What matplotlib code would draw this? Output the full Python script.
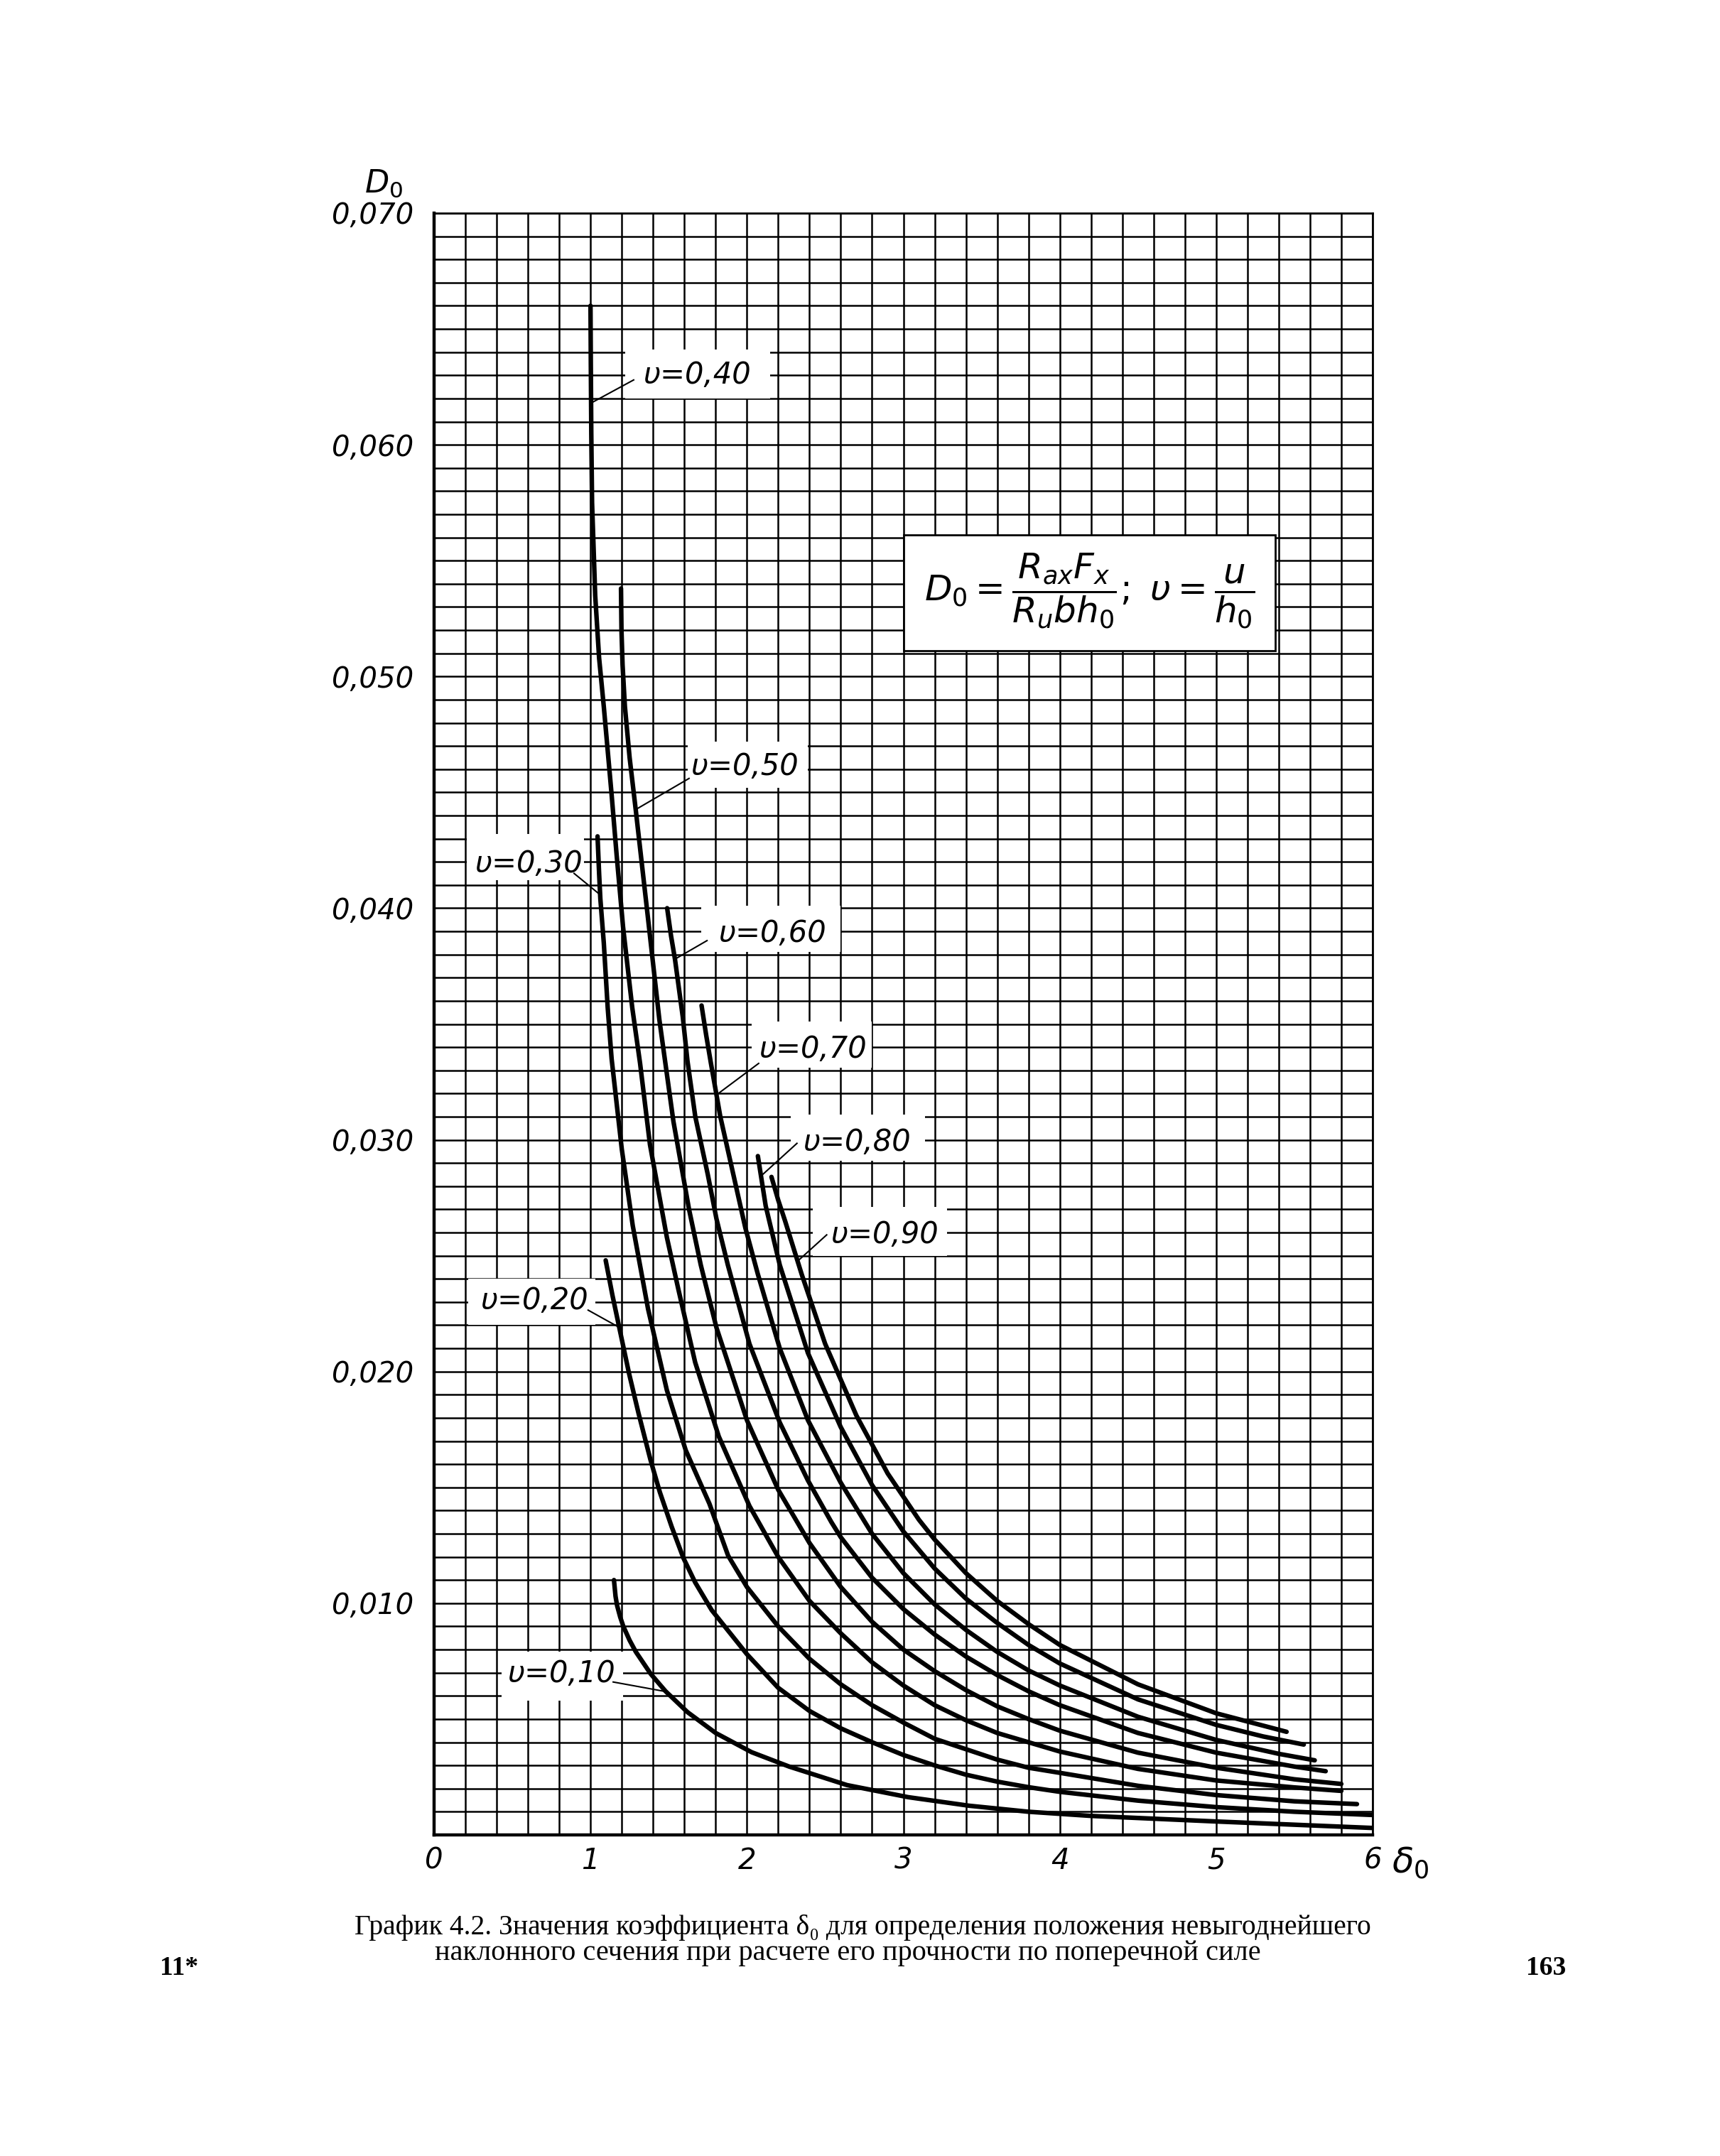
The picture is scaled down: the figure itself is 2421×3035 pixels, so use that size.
import matplotlib
matplotlib.use("Agg")
import matplotlib.pyplot as plt
from matplotlib.patches import Rectangle
from matplotlib.ticker import MultipleLocator

W, H = 2421, 3035

# values: delta_0 along x, D_0 along y
delta_10 = [1.15, 1.16, 1.17, 1.19, 1.21, 1.25, 1.29, 1.385, 1.48, 1.62, 1.80,
            2.03, 2.27, 2.64, 3.03, 3.42, 3.80, 4.20, 4.60, 5.00, 5.50, 6.00]
d0_10 = [0.0110, 0.0103, 0.0099, 0.0094, 0.0090, 0.0084, 0.0079, 0.00695,
         0.0062, 0.0053, 0.0044, 0.00357, 0.00295, 0.00215, 0.00163, 0.00126,
         0.0010, 0.00082, 0.00070, 0.00058, 0.00044, 0.00030]

delta_20 = [1.097, 1.14, 1.187, 1.247, 1.307, 1.383, 1.443, 1.519, 1.594, 1.669,
            1.775, 2.0, 2.2, 2.4, 2.6, 2.8, 3.0, 3.2, 3.4, 3.6, 3.8, 4.0, 4.5,
            5.0, 5.5, 6.0]
d0_20 = [0.0248, 0.0233, 0.0218, 0.0199, 0.0182, 0.0162, 0.0148, 0.0133,
         0.01195, 0.0109, 0.0097, 0.0078, 0.00635, 0.00535, 0.0046, 0.0040,
         0.00345, 0.0030, 0.0026, 0.0023, 0.00206, 0.00186, 0.00148, 0.0012,
         0.0010, 0.00086]

delta_30 = [1.045, 1.055, 1.063, 1.085, 1.11, 1.135, 1.2, 1.27, 1.368, 1.488,
            1.609, 1.76, 1.88, 2.0, 2.2, 2.4, 2.6, 2.8, 3.0, 3.2, 3.4, 3.6,
            3.8, 4.0, 4.5, 5.0, 5.5, 5.9]
d0_30 = [0.0431, 0.0415, 0.0404, 0.0385, 0.0357, 0.0335, 0.0296, 0.0263,
         0.0227, 0.0192, 0.0166, 0.0143, 0.01205, 0.0107, 0.0090, 0.0076,
         0.0065, 0.0056, 0.00485, 0.00415, 0.0037, 0.00325, 0.0029, 0.00268,
         0.00212, 0.00172, 0.00145, 0.00133]

delta_40 = [1.0, 1.002, 1.005, 1.01, 1.03, 1.055, 1.085, 1.135, 1.167, 1.208,
            1.267, 1.317, 1.38, 1.488, 1.56, 1.669, 1.82, 2.016, 2.2, 2.4, 2.6,
            2.8, 3.0, 3.2, 3.4, 3.6, 3.8, 4.0, 4.5, 5.0, 5.5, 5.8]
d0_40 = [0.0660, 0.0635, 0.0605, 0.0575, 0.0535, 0.0508, 0.0487, 0.0449,
         0.0423, 0.0392, 0.0357, 0.0333, 0.0298, 0.0258, 0.0236, 0.0204,
         0.0172, 0.0142, 0.0120, 0.0101, 0.0087, 0.00745, 0.00645, 0.0056,
         0.00495, 0.0044, 0.0040, 0.0036, 0.00285, 0.00235, 0.00205, 0.0019]

delta_50 = [1.195, 1.198, 1.205, 1.22, 1.25, 1.29, 1.367, 1.44, 1.53, 1.63,
            1.705, 1.805, 2.0, 2.2, 2.4, 2.6, 2.8, 3.0, 3.2, 3.4, 3.6, 3.8, 4.0,
            4.5, 5.0, 5.5, 5.8]
d0_50 = [0.0538, 0.0520, 0.0505, 0.0487, 0.0465, 0.0442, 0.0396, 0.0352,
         0.0308, 0.0270, 0.0246, 0.0219, 0.0179, 0.0149, 0.0126, 0.0107,
         0.0092, 0.0080, 0.00707, 0.00625, 0.00555, 0.0050, 0.0045, 0.00355,
         0.0029, 0.0024, 0.0022]

delta_60 = [1.49, 1.515, 1.54, 1.59, 1.62, 1.67, 1.75, 1.805, 1.878, 2.016,
            2.21, 2.39, 2.54, 2.6, 2.8, 3.0, 3.2, 3.4, 3.6, 3.8, 4.0, 4.5, 5.0,
            5.5, 5.7]
d0_60 = [0.0400, 0.0388, 0.0378, 0.0353, 0.0334, 0.0310, 0.0285, 0.0266,
         0.0246, 0.0212, 0.0178, 0.0153, 0.0135, 0.01285, 0.0111, 0.00975,
         0.00865, 0.0077, 0.0069, 0.0062, 0.0056, 0.0044, 0.00355, 0.00295,
         0.00275]

delta_70 = [1.71, 1.74, 1.77, 1.83, 1.88, 1.99, 2.07, 2.21, 2.39, 2.6, 2.8, 3.0,
            3.2, 3.4, 3.6, 3.8, 4.0, 4.5, 5.0, 5.4, 5.63]
d0_70 = [0.0358, 0.0345, 0.0333, 0.0310, 0.0295, 0.0262, 0.0242, 0.0210,
         0.0179, 0.0152, 0.0130, 0.0113, 0.00995, 0.00885, 0.0079, 0.0071,
         0.00645, 0.0051, 0.0041, 0.0035, 0.00322]

delta_80 = [2.07, 2.12, 2.21, 2.39, 2.6, 2.8, 2.93, 3.0, 3.2, 3.4, 3.6, 3.8,
            4.0, 4.5, 5.0, 5.3, 5.56]
d0_80 = [0.0293, 0.02715, 0.0246, 0.0208, 0.0176, 0.0151, 0.0138, 0.0131,
         0.0115, 0.0102, 0.00915, 0.0082, 0.0074, 0.00585, 0.00475, 0.00425,
         0.0039]

delta_90 = [2.157, 2.2, 2.244, 2.35, 2.5, 2.7, 2.9, 3.1, 3.2, 3.4, 3.6, 3.8,
            4.0, 4.5, 5.0, 5.45]
d0_90 = [0.0284, 0.0274, 0.0265, 0.0242, 0.0212, 0.0181, 0.0156, 0.0136,
         0.01275, 0.0113, 0.0101, 0.0091, 0.0082, 0.0065, 0.00525, 0.00445]

curves = [(delta_10, d0_10), (delta_20, d0_20), (delta_30, d0_30),
          (delta_40, d0_40), (delta_50, d0_50), (delta_60, d0_60),
          (delta_70, d0_70), (delta_80, d0_80), (delta_90, d0_90)]

x_ticks = [0, 1, 2, 3, 4, 5, 6]
y_ticks = [0.010, 0.020, 0.030, 0.040, 0.050, 0.060, 0.070]
y_tick_labels = ["0,010", "0,020", "0,030", "0,040", "0,050", "0,060", "0,070"]

# curve labels: text, text centre, white box (x0, x1, y0, y1), leader from -> to
curve_labels = [
    ("υ=0,10", (0.815, 0.00695), (0.43, 1.21, 0.0058, 0.0079), (1.145, 0.0066), (1.47, 0.0062)),
    ("υ=0,20", (0.64, 0.02305), (0.22, 1.03, 0.0220, 0.0240), (0.985, 0.02265), (1.185, 0.0219)),
    ("υ=0,30", (0.605, 0.0419), (0.21, 0.96, 0.0412, 0.0432), (0.895, 0.0415), (1.058, 0.0406)),
    ("υ=0,40", (1.68, 0.0630), (1.22, 2.15, 0.0620, 0.0641), (1.276, 0.0628), (1.003, 0.0618)),
    ("υ=0,50", (1.985, 0.0461), (1.62, 2.39, 0.0452, 0.0472), (1.63, 0.0456), (1.30, 0.0443)),
    ("υ=0,60", (2.165, 0.0389), (1.71, 2.60, 0.0381, 0.0401), (1.745, 0.0386), (1.54, 0.0378)),
    ("υ=0,70", (2.42, 0.0339), (2.03, 2.80, 0.0331, 0.0351), (2.075, 0.0333), (1.817, 0.0320)),
    ("υ=0,80", (2.705, 0.0299), (2.28, 3.14, 0.0291, 0.0311), (2.32, 0.02985), (2.10, 0.0285)),
    ("υ=0,90", (2.88, 0.0259), (2.42, 3.28, 0.0250, 0.0271), (2.51, 0.0259), (2.33, 0.0248)),
]

plt.rcParams["font.family"] = ["DejaVu Sans"]
plt.rcParams["mathtext.fontset"] = "dejavusans"

fig = plt.figure(figsize=(W / 100, H / 100), dpi=100, facecolor="white")
ax = fig.add_axes([611 / W, 1 - 2583 / H, (1932 - 611) / W, (2583 - 300) / H])

ax.set_xlim(0, 6)
ax.set_ylim(0, 0.070)
ax.set_xticks(x_ticks)
ax.set_xticklabels([str(v) for v in x_ticks])
ax.set_yticks(y_ticks)
ax.set_yticklabels(y_tick_labels)
ax.xaxis.set_minor_locator(MultipleLocator(0.2))
ax.yaxis.set_minor_locator(MultipleLocator(0.001))
ax.tick_params(which="both", length=0)
ax.tick_params(axis="x", pad=12)
ax.tick_params(axis="y", pad=21)
for lab in ax.get_xticklabels() + ax.get_yticklabels():
    lab.set_fontsize(29)
    lab.set_fontstyle("italic")
ax.set_axisbelow(True)
ax.grid(which="both", color="black", linewidth=1.8)
for side in ("left", "bottom"):
    ax.spines[side].set_linewidth(3.2)
for side in ("top", "right"):
    ax.spines[side].set_linewidth(2.0)

for xs, ys in curves:
    ax.plot(xs, ys, color="black", linewidth=4.6, solid_capstyle="round",
            solid_joinstyle="round", zorder=3)

for text, (tx, ty), (bx0, bx1, by0, by1), (lx0, ly0), (lx1, ly1) in curve_labels:
    ax.add_patch(Rectangle((bx0, by0), bx1 - bx0, by1 - by0, facecolor="white",
                           edgecolor="none", zorder=1.5))
    ax.text(tx, ty, text, fontsize=30, fontstyle="italic", ha="center",
            va="center", zorder=4)
    ax.plot([lx0, lx1], [ly0, ly1], color="black", linewidth=1.5, zorder=3)

# formula box
ax.add_patch(Rectangle((3.0, 0.0511), 2.38, 0.0050, facecolor="white",
                       edgecolor="black", linewidth=2.0, zorder=2))
ax.text(4.19, 0.0537,
        r"$D_0=\dfrac{R_{ax}F_x}{R_u b h_0};\ \upsilon=\dfrac{u}{h_0}$",
        fontsize=36, ha="center", va="center", zorder=4)

# axis names
fig.text(540 / W, 1 - 258 / H, r"$D_0$", fontsize=32, ha="center", va="center")
fig.text(1985 / W, 1 - 2622 / H, r"$\delta_0$", fontsize=36, ha="center", va="center")

# caption and page marks
cap_font = ["Liberation Serif", "DejaVu Serif"]
fig.text(1214 / W, 1 - 2713 / H,
         "График 4.2. Значения коэффициента δ₀ для определения положения невыгоднейшего",
         fontsize=28.5, family=cap_font, ha="center", va="center")
fig.text(1193 / W, 1 - 2750 / H,
         "наклонного сечения при расчете его прочности по поперечной силе",
         fontsize=29, family=cap_font, ha="center", va="center")
fig.text(252 / W, 1 - 2770 / H, "11*", fontsize=27, family=cap_font,
         fontweight="bold", ha="center", va="center")
fig.text(2176 / W, 1 - 2770 / H, "163", fontsize=27, family=cap_font,
         fontweight="bold", ha="center", va="center")

fig.savefig("out.png", dpi=100, facecolor="white")
